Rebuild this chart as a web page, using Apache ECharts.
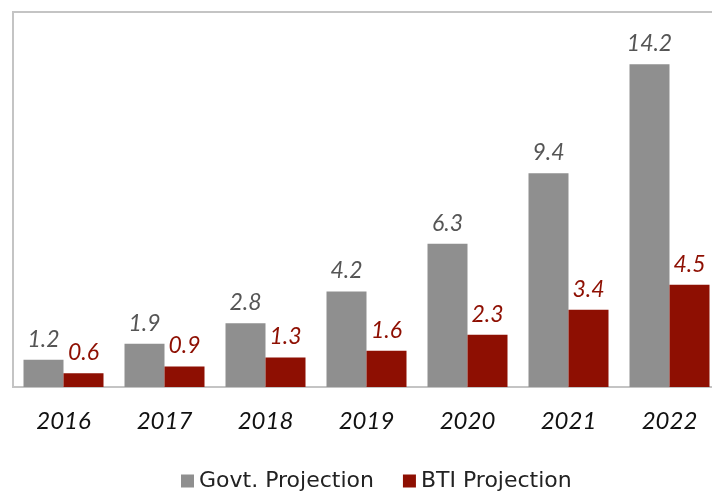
<!DOCTYPE html>
<html>
<head>
<meta charset="utf-8">
<script src="https://cdn.jsdelivr.net/npm/echarts@6/dist/echarts.min.js"></script>
<style>
  html, body { margin: 0; padding: 0; background: #fff; }
  #main { width: 712px; height: 491px; }
</style>
</head>
<body>
<div id="main"></div>
<script>
var years = ['2016', '2017', '2018', '2019', '2020', '2021', '2022'];
var govtValues = [1.2, 1.9, 2.8, 4.2, 6.3, 9.4, 14.2];
var btiValues = [0.6, 0.9, 1.3, 1.6, 2.3, 3.4, 4.5];

var chart = echarts.init(document.getElementById('main'));
var labelFont = 'Lato, "Open Sans", sans-serif';

chart.setOption({
  animation: false,
  grid: {
    left: 13, top: 12, width: 707, height: 375,
    outerBoundsMode: 'none',
    containLabel: false,
    show: true, borderColor: '#c4c4c4', borderWidth: 2,
    backgroundColor: '#fff'
  },
  legend: {
    top: 465,
    left: 176,
    itemWidth: 13, itemHeight: 13,
    itemGap: 29,
    icon: 'rect',
    textStyle: { fontSize: 22, color: '#222', fontFamily: '"DejaVu Sans", sans-serif' }
  },
  xAxis: {
    type: 'category',
    data: years,
    axisLine: { show: false },
    axisTick: { show: false },
    axisLabel: {
      margin: 22, fontSize: 24, fontStyle: 'italic',
      color: '#111', fontFamily: labelFont
    }
  },
  yAxis: {
    type: 'value', min: 0, max: 16.5,
    show: false, splitLine: { show: false }
  },
  series: [
    {
      name: 'Govt. Projection', type: 'bar', data: govtValues,
      barWidth: 40, barGap: '0%',
      itemStyle: { color: '#8f8f8f' },
      label: {
        show: true, position: 'top', distance: 9,
        fontSize: 23, fontStyle: 'italic', color: '#555',
        fontFamily: labelFont
      }
    },
    {
      name: 'BTI Projection', type: 'bar', data: btiValues,
      barWidth: 40,
      itemStyle: { color: '#8e0f02' },
      label: {
        show: true, position: 'top', distance: 9,
        fontSize: 23, fontStyle: 'italic', color: '#8e0f02',
        fontFamily: labelFont
      }
    }
  ]
});
</script>
</body>
</html>
